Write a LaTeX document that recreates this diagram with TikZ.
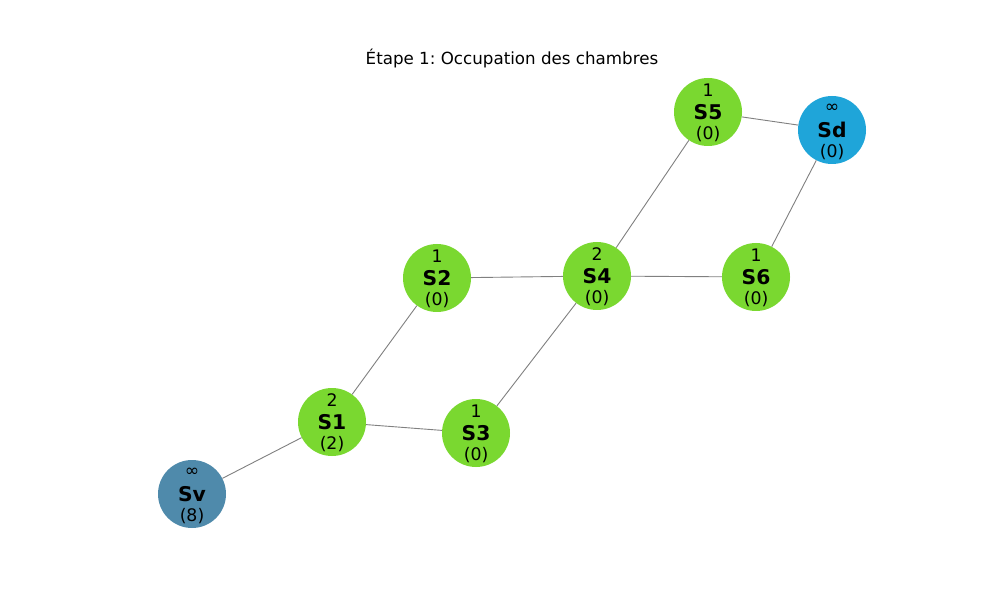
\documentclass[tikz,border=0pt]{standalone}
\usepackage{fontspec}
\setmainfont{DejaVu Sans}
\frenchspacing
\definecolor{nodegreen}{HTML}{7AD830}
\definecolor{svblue}{HTML}{4F8AAB}
\definecolor{sdblue}{HTML}{1FA5D9}
\definecolor{edgegray}{HTML}{808080}
\tikzset{
  room/.style={circle, fill=nodegreen, minimum size=68pt, inner sep=0pt,
    font=\fontsize{20.3}{22}\selectfont\bfseries},
  top/.style={label={[anchor=center, yshift=21.5pt, font=\fontsize{17.3}{20}\selectfont]center:#1}},
  bot/.style={label={[anchor=center, yshift=-22pt, font=\fontsize{17.3}{20}\selectfont]center:#1}},
  link/.style={draw=edgegray, line width=0.9pt}
}
\begin{document}
\begin{tikzpicture}[x=1pt,y=1pt]
\useasboundingbox (0,0) rectangle (1000,600);
\fill[white] (0,0) rectangle (1000,600);
\node[font=\fontsize{16.7}{20}\selectfont] (title) at (512,542) {Étape 1: Occupation des chambres};
\node[room, fill=svblue, top={∞}, bot={(8)}] (Sv) at (192,106) {Sv};
\node[room, top={2}, bot={(2)}] (S1) at (332,178) {S1};
\node[room, top={1}, bot={(0)}] (S3) at (476,167) {S3};
\node[room, top={1}, bot={(0)}] (S2) at (437,322) {S2};
\node[room, top={2}, bot={(0)}] (S4) at (597,324) {S4};
\node[room, top={1}, bot={(0)}] (S6) at (756,323) {S6};
\node[room, top={1}, bot={(0)}] (S5) at (708,488) {S5};
\node[room, fill=sdblue, top={∞}, bot={(0)}] (Sd) at (832,470) {Sd};
\draw[link] (Sv) -- (S1);
\draw[link] (S1) -- (S2);
\draw[link] (S1) -- (S3);
\draw[link] (S2) -- (S4);
\draw[link] (S3) -- (S4);
\draw[link] (S4) -- (S5);
\draw[link] (S4) -- (S6);
\draw[link] (S5) -- (Sd);
\draw[link] (S6) -- (Sd);
\end{tikzpicture}
\end{document}
